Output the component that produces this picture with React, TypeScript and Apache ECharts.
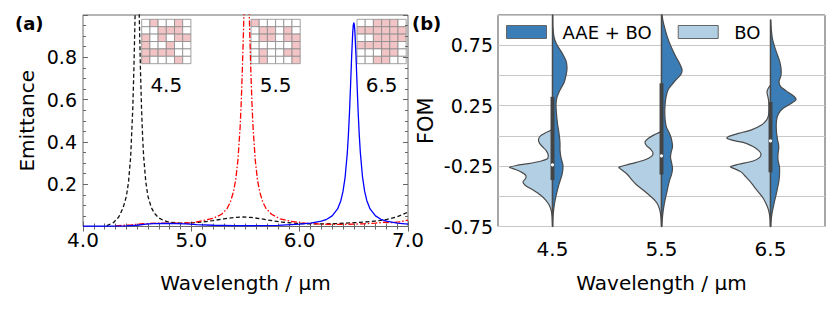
import React, { useEffect, useRef } from 'react';
import * as echarts from 'echarts';

// ---------- Panel (a): emittance spectra ----------
const blackWl = [4.22, 4.28, 4.33, 4.37, 4.40, 4.42, 4.44, 4.46, 4.47, 4.48, 4.485, 4.49, 4.495, 4.50, 4.505, 4.51, 4.515, 4.52, 4.53, 4.54, 4.55, 4.56, 4.58, 4.60, 4.63, 4.66, 4.70, 4.75, 4.80, 4.90, 5.00, 5.10, 5.20, 5.30, 5.40, 5.47, 5.55, 5.65, 5.75, 5.85, 5.95, 6.05, 6.20, 6.35, 6.50, 6.60, 6.70, 6.80, 6.90, 7.00];
const blackEm = [0.004, 0.018, 0.045, 0.088, 0.142, 0.209, 0.33, 0.564, 0.749, 0.98, 1.098, 1.202, 1.274, 1.3, 1.274, 1.202, 1.098, 0.98, 0.749, 0.564, 0.427, 0.33, 0.209, 0.142, 0.09, 0.062, 0.04, 0.027, 0.02, 0.016, 0.017, 0.021, 0.028, 0.036, 0.043, 0.045, 0.043, 0.036, 0.027, 0.02, 0.016, 0.013, 0.012, 0.014, 0.018, 0.021, 0.026, 0.033, 0.046, 0.068];

const redWl = [4.30, 4.45, 4.55, 4.70, 4.85, 5.00, 5.10, 5.20, 5.28, 5.33, 5.36, 5.39, 5.41, 5.43, 5.45, 5.46, 5.47, 5.48, 5.49, 5.50, 5.51, 5.52, 5.53, 5.54, 5.55, 5.56, 5.57, 5.59, 5.61, 5.63, 5.66, 5.69, 5.74, 5.82, 5.92, 6.05, 6.20, 6.35, 6.50, 6.60, 6.70, 6.78, 6.85, 6.92, 7.00];
const redEm = [0.003, 0.008, 0.013, 0.016, 0.016, 0.017, 0.027, 0.038, 0.058, 0.085, 0.115, 0.166, 0.223, 0.314, 0.467, 0.579, 0.724, 0.899, 1.089, 1.248, 1.312, 1.248, 1.089, 0.899, 0.724, 0.579, 0.467, 0.314, 0.223, 0.166, 0.115, 0.085, 0.058, 0.036, 0.024, 0.016, 0.011, 0.010, 0.011, 0.013, 0.016, 0.020, 0.018, 0.022, 0.030];

const blueWl = [4.00, 4.20, 4.40, 4.50, 4.58, 4.65, 4.75, 4.85, 4.95, 5.05, 5.20, 5.40, 5.60, 5.80, 6.00, 6.10, 6.20, 6.25, 6.30, 6.35, 6.38, 6.40, 6.42, 6.44, 6.45, 6.46, 6.47, 6.48, 6.49, 6.495, 6.50, 6.505, 6.51, 6.52, 6.53, 6.54, 6.55, 6.56, 6.58, 6.60, 6.62, 6.65, 6.70, 6.75, 6.80, 6.90, 7.00];
const blueEm = [0.002, 0.002, 0.003, 0.006, 0.011, 0.014, 0.015, 0.014, 0.012, 0.009, 0.006, 0.004, 0.004, 0.005, 0.011, 0.016, 0.025, 0.034, 0.050, 0.083, 0.122, 0.166, 0.235, 0.350, 0.434, 0.540, 0.669, 0.806, 0.919, 0.952, 0.964, 0.952, 0.919, 0.806, 0.669, 0.540, 0.434, 0.350, 0.235, 0.166, 0.122, 0.083, 0.050, 0.034, 0.025, 0.016, 0.011];

const insetLabels = ['4.5', '5.5', '6.5'];
const insetPatterns = [
  [[0,1,0,0,1,0],[0,0,1,1,1,0],[1,0,1,0,1,1],[1,0,0,1,0,0],[1,1,1,1,0,0],[1,0,0,0,1,0]],
  [[1,0,0,0,0,0],[0,1,1,0,1,0],[0,1,1,0,1,1],[0,0,0,0,0,1],[0,1,0,0,1,1],[0,1,0,0,0,1]],
  [[0,0,1,1,1,0],[1,1,1,1,1,1],[0,0,1,1,1,1],[1,1,1,1,1,0],[0,0,0,1,1,0],[0,0,1,1,0,0]],
];

// ---------- Panel (b): FOM violins ----------
const categories = ['4.5', '5.5', '6.5'];
const fomTickLabels = [-0.75, -0.25, 0.25, 0.75];

// BO (left halves): FOM sample points and KDE density (arbitrary units)
const boFom = [
  [0.06, 0.045, 0.025, 0.0, -0.03, -0.06, -0.09, -0.12, -0.15, -0.17, -0.19, -0.21, -0.23, -0.245, -0.26, -0.275, -0.30, -0.33, -0.355, -0.38, -0.41, -0.45, -0.49, -0.53, -0.57, -0.62, -0.67, -0.72, -0.75],
  [0.05, 0.03, 0.01, -0.02, -0.05, -0.08, -0.11, -0.14, -0.17, -0.20, -0.23, -0.26, -0.285, -0.32, -0.36, -0.40, -0.45, -0.50, -0.54, -0.58, -0.63, -0.68, -0.72, -0.75],
  [0.42, 0.39, 0.36, 0.32, 0.28, 0.22, 0.17, 0.13, 0.09, 0.05, 0.02, -0.005, -0.02, -0.04, -0.06, -0.09, -0.12, -0.15, -0.18, -0.21, -0.235, -0.255, -0.275, -0.30, -0.34, -0.38, -0.43, -0.48, -0.52, -0.56, -0.60, -0.65, -0.70, -0.75],
];
const boDensity = [
  [0, 2, 7, 12, 14, 13, 10, 6.5, 4.5, 4.3, 5, 12, 24, 36, 43, 38, 31, 26.5, 27, 29.5, 27, 19, 12, 7, 3.5, 1.2, 0.4, 0.1, 0],
  [0, 2, 7, 13, 16.5, 15, 11, 8.5, 10, 17, 30, 42.5, 39, 34, 30, 25.5, 18, 11, 6, 3, 1.3, 0.5, 0.2, 0],
  [0, 2.5, 3.5, 2.5, 1.7, 1.5, 2, 4, 9, 19, 32, 42, 43.5, 36, 25, 17, 12, 9.5, 11, 18, 32, 40, 35, 29, 24.5, 20, 15.5, 10.5, 7, 4.5, 2.5, 1, 0.4, 0.2],
];

// AAE + BO (right halves)
const aaeFom = [
  [1.0, 0.9, 0.82, 0.76, 0.68, 0.62, 0.56, 0.50, 0.44, 0.38, 0.32, 0.26, 0.18, 0.10, 0.02, -0.06, -0.12, -0.18, -0.25, -0.32, -0.40, -0.48, -0.56, -0.64, -0.70, -0.75],
  [1.0, 0.95, 0.90, 0.84, 0.78, 0.72, 0.66, 0.60, 0.55, 0.51, 0.46, 0.42, 0.38, 0.32, 0.25, 0.18, 0.12, 0.07, 0.02, -0.03, -0.09, -0.14, -0.18, -0.22, -0.27, -0.32, -0.36, -0.42, -0.46, -0.54, -0.62, -0.70, -0.75],
  [0.96, 0.88, 0.80, 0.74, 0.68, 0.62, 0.56, 0.50, 0.45, 0.41, 0.37, 0.33, 0.30, 0.27, 0.23, 0.19, 0.15, 0.09, 0.03, -0.03, -0.09, -0.15, -0.20, -0.26, -0.32, -0.38, -0.44, -0.49, -0.56, -0.62, -0.67, -0.72, -0.75],
];
const aaeDensity = [
  [0.3, 0.5, 1.5, 4, 10, 13.5, 14.5, 13.5, 11.5, 7.5, 4.5, 3.5, 4, 5, 6.5, 7.5, 7.5, 8.5, 10.5, 9.5, 6.5, 4, 2, 0.8, 0.4, 0.3],
  [0.5, 1.5, 3, 5, 7.5, 10.5, 14, 18, 20.5, 19.5, 14, 10, 6.5, 4.5, 3.5, 3.3, 3.8, 5, 8, 10, 11, 9.5, 9, 10, 11, 10, 8.3, 6.5, 5.5, 3.3, 1.7, 0.7, 0.4],
  [0.3, 0.8, 2, 4, 6.5, 9, 10.5, 10.5, 8.5, 10, 16, 23, 25.5, 21, 13, 8.5, 6.5, 5.7, 6, 7, 8.3, 7.5, 7.5, 9, 9, 8.3, 6.8, 5.5, 3.5, 2, 1, 0.5, 0.3],
];

// Inner box (pooled quartiles and median)
const boxQ1 = [-0.366, -0.32, -0.302];
const boxQ3 = [0.323, 0.435, 0.28];
const boxMedian = [-0.24, -0.165, -0.042];

const DARK = '#3b7db6';
const LIGHT = '#b3cfe4';
const EDGE = '#4a4a4a';
const FONT = 'DejaVu Sans';

const densMax = Math.max(...boDensity.flat(), ...aaeDensity.flat());

function halfViolin(side: number, fomArr: number[][], densArr: number[][], color: string) {
  return (params: any, api: any) => {
    const i = params.dataIndex;
    const band = api.size([1, 0])[0];
    const half = 0.4 * band;
    const f = fomArr[i];
    const d = densArr[i];
    const cx = api.coord([i, 0])[0];
    const pts: number[][] = [];
    pts.push([cx, api.coord([i, f[0]])[1]]);
    for (let k = 0; k < f.length; k++) {
      const y = api.coord([i, f[k]])[1];
      pts.push([cx + (side * d[k] / densMax) * half, y]);
    }
    pts.push([cx, api.coord([i, f[f.length - 1]])[1]]);
    return {
      type: 'polygon',
      shape: { points: pts, smooth: 0.25 },
      style: { fill: color, stroke: EDGE, lineWidth: 1.2 },
    };
  };
}

function innerBox(params: any, api: any) {
  const i = params.dataIndex;
  const band = api.size([1, 0])[0];
  const cx = api.coord([i, 0])[0];
  const top = Math.max(boFom[i][0], aaeFom[i][0]);
  const bot = Math.min(boFom[i][boFom[i].length - 1], aaeFom[i][aaeFom[i].length - 1]);
  const yTop = api.coord([i, top])[1];
  const yBot = api.coord([i, bot])[1];
  const yQ3 = api.coord([i, boxQ3[i]])[1];
  const yQ1 = api.coord([i, boxQ1[i]])[1];
  const yMed = api.coord([i, boxMedian[i]])[1];
  const bw = band * 0.036;
  return {
    type: 'group',
    children: [
      { type: 'line', shape: { x1: cx, y1: yTop, x2: cx, y2: yBot }, style: { stroke: EDGE, lineWidth: 1.3 } },
      { type: 'rect', shape: { x: cx - bw / 2, y: yQ3, width: bw, height: yQ1 - yQ3 }, style: { fill: '#444444' } },
      { type: 'circle', shape: { cx, cy: yMed, r: 1.6 }, style: { fill: '#ffffff' } },
    ],
  };
}

function buildInsets(): any[] {
  const lefts = [141.7, 251, 357];
  const top = 19.3;
  const cw = 8.2;
  const ch = 7.4;
  const out: any[] = [];
  insetPatterns.forEach((pat, n) => {
    const children: any[] = [];
    pat.forEach((row, r) => {
      row.forEach((v, c) => {
        children.push({
          type: 'rect',
          shape: { x: c * cw, y: r * ch, width: cw, height: ch },
          style: { fill: v ? '#f2c4c6' : '#ffffff', stroke: '#8a8a8a', lineWidth: 0.8 },
        });
      });
    });
    out.push({ type: 'group', x: lefts[n], y: top, children });
    out.push({
      type: 'text',
      x: lefts[n] + (cw * 6) / 2,
      y: 85,
      style: { text: insetLabels[n], font: `20px "${FONT}"`, fill: '#000', textAlign: 'center', textVerticalAlign: 'middle' },
    });
  });
  return out;
}

export default function App() {
  const ref = useRef<HTMLDivElement>(null);
  useEffect(() => {
    if (!ref.current) return;
    const chart = echarts.init(ref.current, undefined, { renderer: 'svg' });
    const tickStyle = { color: '#666666', width: 1 };
    const option: any = {
      animation: false,
      textStyle: { fontFamily: FONT },
      grid: [
        { left: 83, top: 15, width: 325, height: 211.5, show: true, borderColor: '#6a6a6a', borderWidth: 1 },
        { left: 498, top: 15, width: 327, height: 211.5, show: true, borderColor: '#4d4d4d', borderWidth: 1 },
      ],
      legend: {
        data: ['AAE + BO', 'BO'],
        left: 506,
        top: 23,
        padding: 0,
        icon: 'rect',
        itemWidth: 40,
        itemHeight: 13,
        itemGap: 26,
        itemStyle: { borderColor: '#666666', borderWidth: 1 },
        textStyle: { fontSize: 18, color: '#000', fontFamily: FONT, padding: [0, 0, 0, 11] },
      },
      xAxis: [
        {
          type: 'value', gridIndex: 0, min: 4, max: 7, interval: 1, position: 'bottom',
          name: 'Wavelength / µm', nameLocation: 'middle', nameGap: 46,
          nameTextStyle: { fontSize: 20, color: '#000', fontFamily: FONT },
          axisLine: { show: false },
          axisTick: { show: true, inside: true, length: 5, lineStyle: tickStyle },
          minorTick: { show: true, splitNumber: 10, length: 3, lineStyle: tickStyle },
          axisLabel: { fontSize: 20, color: '#000', margin: 3, fontFamily: FONT, formatter: (v: number) => v.toFixed(1) },
          splitLine: { show: false },
        },
        {
          type: 'value', gridIndex: 0, min: 4, max: 7, interval: 1, position: 'top',
          axisLine: { show: false },
          axisTick: { show: true, inside: true, length: 5, lineStyle: tickStyle },
          minorTick: { show: true, splitNumber: 10, length: 3, lineStyle: tickStyle },
          axisLabel: { show: false },
          splitLine: { show: false },
        },
        {
          type: 'category', gridIndex: 1, data: categories, boundaryGap: true,
          name: 'Wavelength / µm', nameLocation: 'middle', nameGap: 46,
          nameTextStyle: { fontSize: 20, color: '#000', fontFamily: FONT },
          axisLine: { show: false },
          axisTick: { show: false },
          axisLabel: { fontSize: 20, color: '#000', margin: 12, fontFamily: FONT },
        },
      ],
      yAxis: [
        {
          type: 'value', gridIndex: 0, min: 0, max: 1, interval: 0.2, position: 'left',
          name: 'Emittance', nameLocation: 'middle', nameGap: 46,
          nameTextStyle: { fontSize: 20, color: '#000', fontFamily: FONT },
          axisLine: { show: false },
          axisTick: { show: true, inside: true, length: 5, lineStyle: tickStyle },
          minorTick: { show: true, splitNumber: 4, length: 3, lineStyle: tickStyle },
          axisLabel: {
            fontSize: 19, color: '#000', margin: 6, fontFamily: FONT,
            formatter: (v: number) => (v <= 0 || v >= 1 ? '' : v.toFixed(1)),
          },
          splitLine: { show: false },
        },
        {
          type: 'value', gridIndex: 0, min: 0, max: 1, interval: 0.2, position: 'right',
          axisLine: { show: false },
          axisTick: { show: true, inside: true, length: 5, lineStyle: tickStyle },
          minorTick: { show: true, splitNumber: 4, length: 3, lineStyle: tickStyle },
          axisLabel: { show: false },
          splitLine: { show: false },
        },
        {
          type: 'value', gridIndex: 1, min: -0.75, max: 1.0, interval: 0.25,
          name: 'FOM', nameLocation: 'middle', nameGap: 62,
          nameTextStyle: { fontSize: 21, color: '#000', fontFamily: FONT },
          axisLine: { show: false },
          axisTick: { show: false },
          axisLabel: {
            fontSize: 19, color: '#000', margin: 5, fontFamily: FONT,
            formatter: (v: number) => (fomTickLabels.some((t) => Math.abs(t - v) < 1e-9) ? v.toFixed(2) : ''),
          },
          splitLine: { show: true, lineStyle: { color: '#c8c8c8', width: 1.2 } },
        },
      ],
      series: [
        {
          type: 'line', xAxisIndex: 0, yAxisIndex: 0, showSymbol: false, symbol: 'none', clip: true,
          data: blackWl.map((x, i) => [x, blackEm[i]]),
          lineStyle: { color: '#111111', width: 1.3, type: [4, 2.5] },
          z: 3,
        },
        {
          type: 'line', xAxisIndex: 0, yAxisIndex: 0, showSymbol: false, symbol: 'none', clip: true,
          data: redWl.map((x, i) => [x, redEm[i]]),
          lineStyle: { color: '#ff0000', width: 1.3, type: [6, 2, 1.5, 2] },
          z: 4,
        },
        {
          type: 'line', xAxisIndex: 0, yAxisIndex: 0, showSymbol: false, symbol: 'none', clip: true,
          data: blueWl.map((x, i) => [x, blueEm[i]]),
          lineStyle: { color: '#0000ff', width: 1.3 },
          z: 5,
        },
        {
          type: 'custom', name: 'BO', xAxisIndex: 2, yAxisIndex: 2,
          data: categories.map((_, i) => [i, 0]),
          itemStyle: { color: LIGHT, borderColor: '#666666', borderWidth: 1 },
          renderItem: halfViolin(-1, boFom, boDensity, LIGHT),
          z: 3,
        },
        {
          type: 'custom', name: 'AAE + BO', xAxisIndex: 2, yAxisIndex: 2,
          data: categories.map((_, i) => [i, 0]),
          itemStyle: { color: DARK, borderColor: '#666666', borderWidth: 1 },
          renderItem: halfViolin(1, aaeFom, aaeDensity, DARK),
          z: 3,
        },
        {
          type: 'custom', name: 'box', xAxisIndex: 2, yAxisIndex: 2,
          data: categories.map((_, i) => [i, 0]),
          renderItem: innerBox,
          z: 4,
        },
      ],
      graphic: [
        ...buildInsets(),
        { type: 'text', x: 15, y: 23, style: { text: '(a)', font: `bold 18px "${FONT}"`, fill: '#000', textVerticalAlign: 'middle' } },
        { type: 'text', x: 412, y: 23, style: { text: '(b)', font: `bold 18px "${FONT}"`, fill: '#000', textVerticalAlign: 'middle' } },
      ],
    };
    chart.setOption(option);
    return () => chart.dispose();
  }, []);
  return <div ref={ref} style={{ position: 'absolute', left: 0, top: 0, width: 830, height: 311, background: '#fff' }} />;
}
